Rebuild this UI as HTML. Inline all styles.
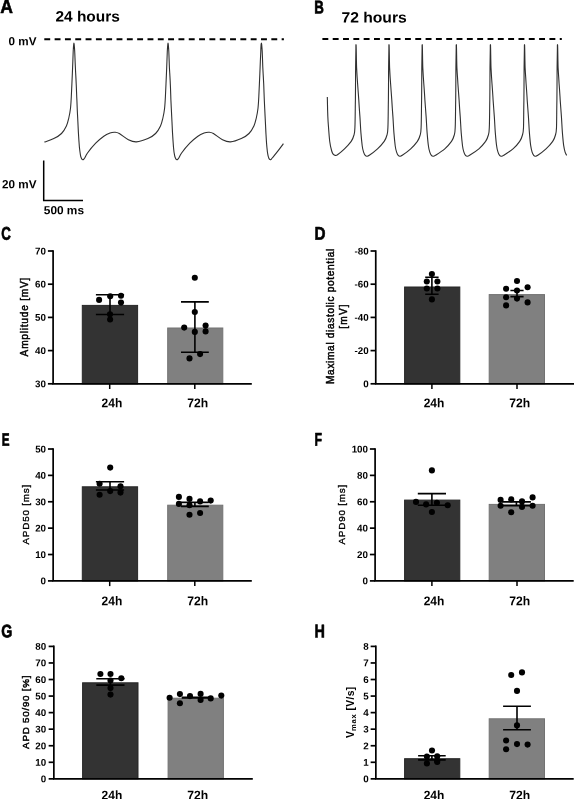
<!DOCTYPE html>
<html><head><meta charset="utf-8"><title>Figure</title>
<style>html,body{margin:0;padding:0;background:#fff}svg{display:block;will-change:transform;opacity:0.9999}text{font-family:"Liberation Sans",sans-serif;fill:#000}</style></head><body>
<svg width="575" height="799" viewBox="0 0 575 799">
<rect width="575" height="799" fill="#fff"/>
<text transform="translate(0.20 13.00) rotate(0.04) scale(0.1758 0.1920)" font-size="100" font-weight="bold" stroke="#000" stroke-width="0.60" vector-effect="non-scaling-stroke" stroke-linejoin="round">A</text>
<text transform="translate(314.35 13.55) rotate(0.04) scale(0.1329 0.1840)" font-size="100" font-weight="bold" stroke="#000" stroke-width="0.60" vector-effect="non-scaling-stroke" stroke-linejoin="round">B</text>
<text transform="translate(1.15 239.87) rotate(0.04) scale(0.1329 0.1837)" font-size="100" font-weight="bold" stroke="#000" stroke-width="0.60" vector-effect="non-scaling-stroke" stroke-linejoin="round">C</text>
<text transform="translate(314.55 239.75) rotate(0.04) scale(0.1522 0.1847)" font-size="100" font-weight="bold" stroke="#000" stroke-width="0.60" vector-effect="non-scaling-stroke" stroke-linejoin="round">D</text>
<text transform="translate(1.75 445.85) rotate(0.04) scale(0.1169 0.1818)" font-size="100" font-weight="bold" stroke="#000" stroke-width="0.60" vector-effect="non-scaling-stroke" stroke-linejoin="round">E</text>
<text transform="translate(314.40 445.85) rotate(0.04) scale(0.1230 0.1847)" font-size="100" font-weight="bold" stroke="#000" stroke-width="0.60" vector-effect="non-scaling-stroke" stroke-linejoin="round">F</text>
<text transform="translate(1.20 637.27) rotate(0.04) scale(0.1428 0.1809)" font-size="100" font-weight="bold" stroke="#000" stroke-width="0.60" vector-effect="non-scaling-stroke" stroke-linejoin="round">G</text>
<text transform="translate(314.40 637.45) rotate(0.04) scale(0.1439 0.1862)" font-size="100" font-weight="bold" stroke="#000" stroke-width="0.60" vector-effect="non-scaling-stroke" stroke-linejoin="round">H</text>
<text transform="translate(55.40 21.40) rotate(0.04) scale(0.15000)" font-size="100" font-weight="bold" text-anchor="start" textLength="429.33" lengthAdjust="spacingAndGlyphs">24 hours</text>
<text transform="translate(8.60 45.20) rotate(0.04) scale(0.11800)" font-size="100" font-weight="bold" text-anchor="start" textLength="236.44" lengthAdjust="spacingAndGlyphs">0 mV</text>
<path d="M44.3 39.2 H283.9" stroke="#000" stroke-width="2" stroke-dasharray="5.9 4.42" fill="none"/>
<path d="M44.3 142.1C45.9 141.5 50.9 140.0 53.8 138.6C56.7 137.2 59.4 135.6 61.5 133.5C63.6 131.4 65.2 128.7 66.4 126.1C67.6 123.5 68.1 121.0 68.8 118.0C69.5 115.0 70.1 111.7 70.5 108.2C70.9 104.7 71.1 100.9 71.3 96.8C71.5 92.7 71.7 88.7 71.9 83.8C72.1 78.9 72.4 72.9 72.6 67.5C72.8 62.1 73.1 55.1 73.2 51.3C73.4 47.5 73.5 46.0 73.7 44.6C73.8 43.2 73.8 43.1 73.9 43.1C74.0 43.1 74.1 43.2 74.2 44.6C74.3 46.0 74.5 47.5 74.7 51.3C74.9 55.1 75.1 62.1 75.4 67.5C75.6 72.9 76.0 78.4 76.2 83.8C76.5 89.2 76.6 94.7 76.9 100.1C77.1 105.5 77.3 111.0 77.6 116.4C77.9 121.8 78.1 127.4 78.4 132.6C78.7 137.8 79.1 143.5 79.4 147.3C79.8 151.1 80.2 153.5 80.5 155.4C80.8 157.3 81.2 157.8 81.5 158.5C81.8 159.2 82.2 159.4 82.5 159.6C82.8 159.8 83.1 159.8 83.5 159.5C83.9 159.2 84.0 159.1 84.7 158.0C85.4 156.9 85.7 155.5 87.5 153.0C89.3 150.5 93.0 146.0 95.7 143.2C98.4 140.4 101.4 137.9 103.8 136.2C106.2 134.5 108.2 133.7 110.0 133.0C111.8 132.3 113.3 132.1 114.8 132.2C116.4 132.3 117.0 132.2 119.3 133.5C121.6 134.8 125.6 138.3 128.4 139.7C131.2 141.1 133.2 142.1 136.4 141.9C139.7 141.7 144.7 140.0 147.9 138.6C151.1 137.2 153.5 135.6 155.6 133.5C157.7 131.4 159.3 128.7 160.5 126.1C161.7 123.5 162.2 121.0 162.9 118.0C163.6 115.0 164.2 111.7 164.6 108.2C165.0 104.7 165.2 100.9 165.4 96.8C165.6 92.7 165.8 88.7 166.0 83.8C166.2 78.9 166.5 72.9 166.7 67.5C166.9 62.1 167.2 55.1 167.3 51.3C167.5 47.5 167.6 46.0 167.8 44.6C167.9 43.2 167.9 43.1 168.0 43.1C168.1 43.1 168.2 43.2 168.3 44.6C168.4 46.0 168.6 47.5 168.8 51.3C169.0 55.1 169.2 62.1 169.4 67.5C169.7 72.9 170.1 78.4 170.3 83.8C170.6 89.2 170.7 94.7 170.9 100.1C171.2 105.5 171.4 111.0 171.7 116.4C172.0 121.8 172.2 127.4 172.5 132.6C172.8 137.8 173.2 143.5 173.5 147.3C173.8 151.1 174.2 153.5 174.6 155.4C174.9 157.3 175.3 157.8 175.6 158.5C175.9 159.2 176.3 159.4 176.6 159.6C176.9 159.8 177.2 159.8 177.6 159.5C178.0 159.2 178.1 159.1 178.8 158.0C179.5 156.9 179.8 155.5 181.6 153.0C183.4 150.5 187.1 146.0 189.8 143.2C192.5 140.4 195.5 137.9 197.9 136.2C200.3 134.5 202.3 133.7 204.1 133.0C205.9 132.3 207.3 132.1 208.9 132.2C210.5 132.3 211.1 132.2 213.4 133.5C215.7 134.8 219.7 138.3 222.5 139.7C225.3 141.1 227.4 142.1 230.5 141.9C233.6 141.7 238.2 140.0 241.3 138.6C244.4 137.2 246.9 135.6 249.0 133.5C251.1 131.4 252.7 128.7 253.9 126.1C255.1 123.5 255.6 121.0 256.3 118.0C257.0 115.0 257.6 111.7 258.0 108.2C258.4 104.7 258.6 100.9 258.8 96.8C259.0 92.7 259.2 88.7 259.4 83.8C259.6 78.9 259.9 72.9 260.1 67.5C260.3 62.1 260.6 55.1 260.8 51.3C260.9 47.5 261.0 46.0 261.1 44.6C261.3 43.2 261.3 43.1 261.4 43.1C261.5 43.1 261.6 43.2 261.7 44.6C261.8 46.0 262.0 47.5 262.2 51.3C262.4 55.1 262.6 62.1 262.8 67.5C263.1 72.9 263.4 78.4 263.7 83.8C263.9 89.2 264.1 94.7 264.3 100.1C264.6 105.5 264.8 111.0 265.1 116.4C265.4 121.8 265.6 127.4 265.9 132.6C266.2 137.8 266.5 143.5 266.9 147.3C267.2 151.1 267.6 153.5 268.0 155.4C268.4 157.3 268.7 157.8 269.0 158.5C269.3 159.2 269.7 159.4 270.0 159.6C270.3 159.8 270.6 159.8 271.0 159.5C271.4 159.2 271.0 159.4 272.2 158.0C273.4 156.6 276.1 153.2 278.0 150.8C279.9 148.4 282.5 144.9 283.4 143.7" fill="none" stroke="#303030" stroke-width="1.1" stroke-linejoin="round"/>
<path d="M43.7 160.4 V200.4 H83" fill="none" stroke="#000" stroke-width="1.5"/>
<text transform="translate(2.00 188.20) rotate(0.04) scale(0.11800)" font-size="100" font-weight="bold" text-anchor="start" textLength="292.37" lengthAdjust="spacingAndGlyphs">20 mV</text>
<text transform="translate(43.80 214.20) rotate(0.04) scale(0.11800)" font-size="100" font-weight="bold" text-anchor="start" textLength="340.68" lengthAdjust="spacingAndGlyphs">500 ms</text>
<text transform="translate(341.40 22.50) rotate(0.04) scale(0.15000)" font-size="100" font-weight="bold" text-anchor="start" textLength="436.00" lengthAdjust="spacingAndGlyphs">72 hours</text>
<path d="M322.4 39.0 H561.8" stroke="#000" stroke-width="2" stroke-dasharray="5.9 4.42" fill="none"/>
<path d="M327.3 97.0C327.4 99.2 327.5 105.9 327.6 110.0C327.7 114.1 327.8 116.5 328.1 121.7C328.5 126.9 329.1 136.3 329.7 141.2C330.3 146.1 331.1 148.8 331.7 151.0C332.3 153.2 332.8 153.7 333.4 154.4C334.0 155.1 334.6 155.3 335.3 155.4C336.0 155.5 336.0 155.9 337.5 154.8C339.0 153.7 342.2 151.1 344.5 148.9C346.8 146.7 349.6 143.6 351.2 141.4C352.8 139.2 353.2 137.8 353.8 135.5C354.4 133.2 354.7 133.7 354.9 127.8C355.2 121.9 355.2 110.1 355.4 100.1C355.5 90.0 355.6 76.2 355.6 67.5C355.7 58.8 355.8 51.8 355.9 48.0C355.9 44.2 355.9 44.8 356.0 44.8C356.1 44.8 356.1 44.2 356.2 48.0C356.3 51.8 356.4 61.5 356.6 67.5C356.9 73.5 357.2 78.4 357.6 83.8C358.0 89.2 358.4 94.7 358.8 100.1C359.1 105.5 359.5 111.0 359.9 116.4C360.3 121.8 360.5 127.7 360.9 132.6C361.3 137.5 361.8 142.4 362.2 145.7C362.6 149.0 363.1 150.6 363.6 152.2C364.1 153.8 364.6 154.7 365.2 155.4C365.8 156.1 366.2 156.2 366.9 156.2C367.6 156.2 367.5 156.5 369.3 155.3C371.1 154.1 375.0 151.2 377.5 148.9C380.0 146.6 382.6 143.6 384.2 141.4C385.8 139.2 386.2 137.8 386.8 135.5C387.4 133.2 387.7 133.7 387.9 127.8C388.2 121.9 388.2 110.1 388.4 100.1C388.5 90.0 388.6 76.2 388.6 67.5C388.7 58.8 388.8 51.8 388.9 48.0C388.9 44.2 388.9 44.8 389.0 44.8C389.1 44.8 389.1 44.2 389.2 48.0C389.3 51.8 389.4 61.5 389.6 67.5C389.9 73.5 390.2 78.4 390.6 83.8C391.0 89.2 391.4 94.7 391.8 100.1C392.1 105.5 392.5 111.0 392.9 116.4C393.3 121.8 393.5 127.7 393.9 132.6C394.3 137.5 394.8 142.4 395.2 145.7C395.6 149.0 396.1 150.6 396.6 152.2C397.1 153.8 397.6 154.7 398.2 155.4C398.8 156.1 399.2 156.2 399.9 156.2C400.6 156.2 400.5 156.5 402.3 155.3C404.1 154.1 408.2 151.2 410.7 148.9C413.2 146.6 415.8 143.6 417.4 141.4C418.9 139.2 419.4 137.8 420.0 135.5C420.6 133.2 420.9 133.7 421.1 127.8C421.4 121.9 421.4 110.1 421.6 100.1C421.7 90.0 421.8 76.2 421.8 67.5C421.9 58.8 422.0 51.8 422.1 48.0C422.1 44.2 422.1 44.8 422.2 44.8C422.3 44.8 422.3 44.2 422.4 48.0C422.5 51.8 422.6 61.5 422.8 67.5C423.1 73.5 423.4 78.4 423.8 83.8C424.2 89.2 424.6 94.7 424.9 100.1C425.3 105.5 425.7 111.0 426.1 116.4C426.5 121.8 426.7 127.7 427.1 132.6C427.5 137.5 427.9 142.4 428.4 145.7C428.8 149.0 429.3 150.6 429.8 152.2C430.3 153.8 430.8 154.7 431.4 155.4C431.9 156.1 432.4 156.2 433.1 156.2C433.8 156.2 433.6 156.5 435.5 155.3C437.4 154.1 442.1 151.2 444.8 148.9C447.5 146.6 449.9 143.6 451.5 141.4C453.1 139.2 453.5 137.8 454.1 135.5C454.7 133.2 455.0 133.7 455.2 127.8C455.5 121.9 455.5 110.1 455.7 100.1C455.8 90.0 455.9 76.2 455.9 67.5C456.0 58.8 456.1 51.8 456.2 48.0C456.2 44.2 456.2 44.8 456.3 44.8C456.4 44.8 456.4 44.2 456.5 48.0C456.6 51.8 456.7 61.5 456.9 67.5C457.2 73.5 457.6 78.4 457.9 83.8C458.3 89.2 458.7 94.7 459.1 100.1C459.4 105.5 459.8 111.0 460.2 116.4C460.6 121.8 460.8 127.7 461.2 132.6C461.6 137.5 462.1 142.4 462.5 145.7C462.9 149.0 463.4 150.6 463.9 152.2C464.4 153.8 464.9 154.7 465.5 155.4C466.1 156.1 466.5 156.2 467.2 156.2C467.9 156.2 467.7 156.5 469.6 155.3C471.6 154.1 476.2 151.2 478.9 148.9C481.6 146.6 484.0 143.6 485.6 141.4C487.1 139.2 487.6 137.8 488.2 135.5C488.8 133.2 489.1 133.7 489.3 127.8C489.6 121.9 489.6 110.1 489.8 100.1C489.9 90.0 490.0 76.2 490.0 67.5C490.1 58.8 490.2 51.8 490.3 48.0C490.3 44.2 490.3 44.8 490.4 44.8C490.5 44.8 490.5 44.2 490.6 48.0C490.7 51.8 490.8 61.5 491.0 67.5C491.3 73.5 491.6 78.4 492.0 83.8C492.4 89.2 492.8 94.7 493.1 100.1C493.5 105.5 493.9 111.0 494.3 116.4C494.7 121.8 494.9 127.7 495.3 132.6C495.7 137.5 496.1 142.4 496.6 145.7C497.0 149.0 497.5 150.6 498.0 152.2C498.5 153.8 499.0 154.7 499.6 155.4C500.1 156.1 500.6 156.2 501.3 156.2C502.0 156.2 501.8 156.5 503.7 155.3C505.6 154.1 510.3 151.2 513.0 148.9C515.7 146.6 518.2 143.6 519.7 141.4C521.2 139.2 521.7 137.8 522.3 135.5C522.9 133.2 523.2 133.7 523.5 127.8C523.7 121.9 523.7 110.1 523.9 100.1C524.0 90.0 524.1 76.2 524.1 67.5C524.2 58.8 524.3 51.8 524.4 48.0C524.4 44.2 524.4 44.8 524.5 44.8C524.6 44.8 524.6 44.2 524.7 48.0C524.8 51.8 524.9 61.5 525.1 67.5C525.4 73.5 525.8 78.4 526.1 83.8C526.5 89.2 526.9 94.7 527.2 100.1C527.6 105.5 528.0 111.0 528.4 116.4C528.8 121.8 529.0 127.7 529.4 132.6C529.8 137.5 530.2 142.4 530.7 145.7C531.2 149.0 531.6 150.6 532.1 152.2C532.6 153.8 533.2 154.7 533.7 155.4C534.2 156.1 534.7 156.2 535.4 156.2C536.1 156.2 536.0 156.5 537.8 155.3C539.6 154.1 543.5 151.2 546.0 148.9C548.5 146.6 551.2 143.6 552.7 141.4C554.2 139.2 554.7 137.8 555.3 135.5C555.9 133.2 556.2 133.7 556.5 127.8C556.7 121.9 556.7 110.1 556.9 100.1C557.0 90.0 557.1 76.2 557.1 67.5C557.2 58.8 557.3 51.8 557.4 48.0C557.4 44.2 557.4 44.8 557.5 44.8C557.6 44.8 557.6 44.2 557.7 48.0C557.8 51.8 557.9 61.5 558.1 67.5C558.4 73.5 558.8 78.4 559.1 83.8C559.5 89.2 559.9 94.7 560.2 100.1C560.6 105.5 561.0 111.0 561.4 116.4C561.8 121.8 562.0 127.7 562.4 132.6C562.8 137.5 563.2 142.4 563.7 145.7C564.2 149.0 564.6 150.6 565.1 152.2C565.6 153.8 566.4 154.9 566.7 155.4" fill="none" stroke="#303030" stroke-width="1.1" stroke-linejoin="round"/>
<rect x="82.30" y="305.40" width="55.30" height="78.40" fill="#333333" stroke="#272727" stroke-width="1"/>
<rect x="167.70" y="328.00" width="55.10" height="55.80" fill="#808080" stroke="#727272" stroke-width="1"/>
<path d="M53.10 250.15 V383.80 H251.80" fill="none" stroke="#000000" stroke-width="1.7"/>
<path d="M47.90 251.00 H53.10" stroke="#000000" stroke-width="1.7"/>
<path d="M47.90 284.20 H53.10" stroke="#000000" stroke-width="1.7"/>
<path d="M47.90 317.40 H53.10" stroke="#000000" stroke-width="1.7"/>
<path d="M47.90 350.60 H53.10" stroke="#000000" stroke-width="1.7"/>
<path d="M47.90 383.80 H53.10" stroke="#000000" stroke-width="1.7"/>
<text transform="translate(46.00 254.40) rotate(0.04) scale(0.09800)" font-size="100" font-weight="bold" text-anchor="end" >70</text>
<text transform="translate(46.00 287.60) rotate(0.04) scale(0.09800)" font-size="100" font-weight="bold" text-anchor="end" >60</text>
<text transform="translate(46.00 320.80) rotate(0.04) scale(0.09800)" font-size="100" font-weight="bold" text-anchor="end" >50</text>
<text transform="translate(46.00 354.00) rotate(0.04) scale(0.09800)" font-size="100" font-weight="bold" text-anchor="end" >40</text>
<text transform="translate(46.00 387.20) rotate(0.04) scale(0.09800)" font-size="100" font-weight="bold" text-anchor="end" >30</text>
<path d="M110.0 294.8 V314.5 M95.9 294.8 H124.1 M95.9 314.5 H124.1" stroke="#000000" stroke-width="1.6" fill="none"/>
<path d="M194.9 301.9 V352.3 M181.0 301.9 H208.8 M181.0 352.3 H208.8" stroke="#000000" stroke-width="1.6" fill="none"/>
<circle cx="99.1" cy="299.9" r="3.05" fill="#000000"/>
<circle cx="110.2" cy="296.3" r="3.05" fill="#000000"/>
<circle cx="121.0" cy="295.8" r="3.05" fill="#000000"/>
<circle cx="121.0" cy="302.6" r="3.05" fill="#000000"/>
<circle cx="110.0" cy="314.2" r="3.05" fill="#000000"/>
<circle cx="110.1" cy="319.5" r="3.05" fill="#000000"/>
<circle cx="194.8" cy="277.7" r="3.05" fill="#000000"/>
<circle cx="194.8" cy="312.0" r="3.05" fill="#000000"/>
<circle cx="184.2" cy="327.6" r="3.05" fill="#000000"/>
<circle cx="205.6" cy="325.6" r="3.05" fill="#000000"/>
<circle cx="205.6" cy="331.4" r="3.05" fill="#000000"/>
<circle cx="194.8" cy="331.9" r="3.05" fill="#000000"/>
<circle cx="200.1" cy="354.1" r="3.05" fill="#000000"/>
<circle cx="189.5" cy="358.4" r="3.05" fill="#000000"/>
<rect x="404.60" y="287.00" width="55.20" height="96.80" fill="#333333" stroke="#272727" stroke-width="1"/>
<rect x="489.20" y="294.60" width="55.30" height="89.20" fill="#808080" stroke="#727272" stroke-width="1"/>
<path d="M375.75 250.15 V383.80 H574.00" fill="none" stroke="#000000" stroke-width="1.7"/>
<path d="M370.55 251.00 H375.75" stroke="#000000" stroke-width="1.7"/>
<path d="M370.55 284.20 H375.75" stroke="#000000" stroke-width="1.7"/>
<path d="M370.55 317.40 H375.75" stroke="#000000" stroke-width="1.7"/>
<path d="M370.55 350.60 H375.75" stroke="#000000" stroke-width="1.7"/>
<path d="M370.55 383.80 H375.75" stroke="#000000" stroke-width="1.7"/>
<text transform="translate(368.65 254.40) rotate(0.04) scale(0.09800)" font-size="100" font-weight="bold" text-anchor="end" >-80</text>
<text transform="translate(368.65 287.60) rotate(0.04) scale(0.09800)" font-size="100" font-weight="bold" text-anchor="end" >-60</text>
<text transform="translate(368.65 320.80) rotate(0.04) scale(0.09800)" font-size="100" font-weight="bold" text-anchor="end" >-40</text>
<text transform="translate(368.65 354.00) rotate(0.04) scale(0.09800)" font-size="100" font-weight="bold" text-anchor="end" >-20</text>
<text transform="translate(368.65 387.20) rotate(0.04) scale(0.09800)" font-size="100" font-weight="bold" text-anchor="end" >0</text>
<path d="M431.9 277.2 V294.3 M425.2 277.2 H438.6 M425.2 294.3 H438.6" stroke="#000000" stroke-width="1.6" fill="none"/>
<path d="M517.0 290.5 V296.6 M510.4 290.5 H523.6 M510.4 296.6 H523.6" stroke="#000000" stroke-width="1.6" fill="none"/>
<circle cx="431.9" cy="274.1" r="3.05" fill="#000000"/>
<circle cx="426.8" cy="281.5" r="3.05" fill="#000000"/>
<circle cx="437.4" cy="281.5" r="3.05" fill="#000000"/>
<circle cx="426.8" cy="288.5" r="3.05" fill="#000000"/>
<circle cx="437.4" cy="288.5" r="3.05" fill="#000000"/>
<circle cx="431.9" cy="299.4" r="3.05" fill="#000000"/>
<circle cx="517.0" cy="281.0" r="3.05" fill="#000000"/>
<circle cx="506.1" cy="288.8" r="3.05" fill="#000000"/>
<circle cx="527.6" cy="287.3" r="3.05" fill="#000000"/>
<circle cx="517.0" cy="290.5" r="3.05" fill="#000000"/>
<circle cx="517.0" cy="298.6" r="3.05" fill="#000000"/>
<circle cx="506.1" cy="297.3" r="3.05" fill="#000000"/>
<circle cx="527.6" cy="302.4" r="3.05" fill="#000000"/>
<circle cx="506.1" cy="305.4" r="3.05" fill="#000000"/>
<rect x="82.30" y="486.80" width="55.30" height="94.10" fill="#333333" stroke="#272727" stroke-width="1"/>
<rect x="167.70" y="505.20" width="55.10" height="75.70" fill="#808080" stroke="#727272" stroke-width="1"/>
<path d="M53.15 448.15 V580.90 H251.80" fill="none" stroke="#000000" stroke-width="1.7"/>
<path d="M47.95 449.00 H53.15" stroke="#000000" stroke-width="1.7"/>
<path d="M47.95 475.38 H53.15" stroke="#000000" stroke-width="1.7"/>
<path d="M47.95 501.76 H53.15" stroke="#000000" stroke-width="1.7"/>
<path d="M47.95 528.14 H53.15" stroke="#000000" stroke-width="1.7"/>
<path d="M47.95 554.52 H53.15" stroke="#000000" stroke-width="1.7"/>
<path d="M47.95 580.90 H53.15" stroke="#000000" stroke-width="1.7"/>
<text transform="translate(46.05 452.40) rotate(0.04) scale(0.09800)" font-size="100" font-weight="bold" text-anchor="end" >50</text>
<text transform="translate(46.05 478.78) rotate(0.04) scale(0.09800)" font-size="100" font-weight="bold" text-anchor="end" >40</text>
<text transform="translate(46.05 505.16) rotate(0.04) scale(0.09800)" font-size="100" font-weight="bold" text-anchor="end" >30</text>
<text transform="translate(46.05 531.54) rotate(0.04) scale(0.09800)" font-size="100" font-weight="bold" text-anchor="end" >20</text>
<text transform="translate(46.05 557.92) rotate(0.04) scale(0.09800)" font-size="100" font-weight="bold" text-anchor="end" >10</text>
<text transform="translate(46.05 584.30) rotate(0.04) scale(0.09800)" font-size="100" font-weight="bold" text-anchor="end" >0</text>
<path d="M110.0 481.7 V490.0 M95.9 481.7 H124.1 M95.9 490.0 H124.1" stroke="#000000" stroke-width="1.6" fill="none"/>
<path d="M194.9 502.4 V506.4 M181.0 502.4 H208.8 M181.0 506.4 H208.8" stroke="#000000" stroke-width="1.6" fill="none"/>
<circle cx="110.2" cy="467.6" r="3.05" fill="#000000"/>
<circle cx="99.6" cy="483.7" r="3.05" fill="#000000"/>
<circle cx="120.5" cy="486.3" r="3.05" fill="#000000"/>
<circle cx="99.6" cy="494.8" r="3.05" fill="#000000"/>
<circle cx="110.2" cy="491.1" r="3.05" fill="#000000"/>
<circle cx="120.5" cy="492.6" r="3.05" fill="#000000"/>
<circle cx="178.9" cy="496.9" r="3.05" fill="#000000"/>
<circle cx="178.9" cy="503.9" r="3.05" fill="#000000"/>
<circle cx="189.5" cy="498.9" r="3.05" fill="#000000"/>
<circle cx="189.5" cy="505.2" r="3.05" fill="#000000"/>
<circle cx="200.1" cy="501.4" r="3.05" fill="#000000"/>
<circle cx="210.7" cy="500.6" r="3.05" fill="#000000"/>
<circle cx="189.5" cy="514.8" r="3.05" fill="#000000"/>
<circle cx="200.1" cy="513.0" r="3.05" fill="#000000"/>
<rect x="404.60" y="500.10" width="55.20" height="80.80" fill="#333333" stroke="#272727" stroke-width="1"/>
<rect x="489.20" y="504.40" width="55.30" height="76.50" fill="#808080" stroke="#727272" stroke-width="1"/>
<path d="M375.10 448.15 V580.90 H573.70" fill="none" stroke="#000000" stroke-width="1.7"/>
<path d="M369.90 449.00 H375.10" stroke="#000000" stroke-width="1.7"/>
<path d="M369.90 475.38 H375.10" stroke="#000000" stroke-width="1.7"/>
<path d="M369.90 501.76 H375.10" stroke="#000000" stroke-width="1.7"/>
<path d="M369.90 528.14 H375.10" stroke="#000000" stroke-width="1.7"/>
<path d="M369.90 554.52 H375.10" stroke="#000000" stroke-width="1.7"/>
<path d="M369.90 580.90 H375.10" stroke="#000000" stroke-width="1.7"/>
<text transform="translate(368.00 452.40) rotate(0.04) scale(0.09800)" font-size="100" font-weight="bold" text-anchor="end" >100</text>
<text transform="translate(368.00 478.78) rotate(0.04) scale(0.09800)" font-size="100" font-weight="bold" text-anchor="end" >80</text>
<text transform="translate(368.00 505.16) rotate(0.04) scale(0.09800)" font-size="100" font-weight="bold" text-anchor="end" >60</text>
<text transform="translate(368.00 531.54) rotate(0.04) scale(0.09800)" font-size="100" font-weight="bold" text-anchor="end" >40</text>
<text transform="translate(368.00 557.92) rotate(0.04) scale(0.09800)" font-size="100" font-weight="bold" text-anchor="end" >20</text>
<text transform="translate(368.00 584.30) rotate(0.04) scale(0.09800)" font-size="100" font-weight="bold" text-anchor="end" >0</text>
<path d="M431.9 493.6 V505.2 M417.8 493.6 H446.0 M417.8 505.2 H446.0" stroke="#000000" stroke-width="1.6" fill="none"/>
<path d="M516.4 501.9 V505.7 M501.9 501.9 H530.9 M501.9 505.7 H530.9" stroke="#000000" stroke-width="1.6" fill="none"/>
<circle cx="431.9" cy="470.4" r="3.05" fill="#000000"/>
<circle cx="416.0" cy="501.9" r="3.05" fill="#000000"/>
<circle cx="426.1" cy="504.4" r="3.05" fill="#000000"/>
<circle cx="436.9" cy="502.7" r="3.05" fill="#000000"/>
<circle cx="447.7" cy="505.2" r="3.05" fill="#000000"/>
<circle cx="431.9" cy="512.0" r="3.05" fill="#000000"/>
<circle cx="500.6" cy="499.9" r="3.05" fill="#000000"/>
<circle cx="511.2" cy="499.4" r="3.05" fill="#000000"/>
<circle cx="522.0" cy="501.4" r="3.05" fill="#000000"/>
<circle cx="532.6" cy="497.4" r="3.05" fill="#000000"/>
<circle cx="500.6" cy="505.7" r="3.05" fill="#000000"/>
<circle cx="522.0" cy="506.9" r="3.05" fill="#000000"/>
<circle cx="532.6" cy="505.7" r="3.05" fill="#000000"/>
<circle cx="511.2" cy="512.2" r="3.05" fill="#000000"/>
<rect x="82.60" y="682.80" width="55.40" height="96.05" fill="#333333" stroke="#272727" stroke-width="1"/>
<rect x="168.10" y="698.20" width="55.30" height="80.65" fill="#808080" stroke="#727272" stroke-width="1"/>
<path d="M53.85 645.55 V778.85 H252.80" fill="none" stroke="#000000" stroke-width="1.7"/>
<path d="M48.65 646.40 H53.85" stroke="#000000" stroke-width="1.7"/>
<path d="M48.65 662.96 H53.85" stroke="#000000" stroke-width="1.7"/>
<path d="M48.65 679.51 H53.85" stroke="#000000" stroke-width="1.7"/>
<path d="M48.65 696.07 H53.85" stroke="#000000" stroke-width="1.7"/>
<path d="M48.65 712.62 H53.85" stroke="#000000" stroke-width="1.7"/>
<path d="M48.65 729.18 H53.85" stroke="#000000" stroke-width="1.7"/>
<path d="M48.65 745.74 H53.85" stroke="#000000" stroke-width="1.7"/>
<path d="M48.65 762.29 H53.85" stroke="#000000" stroke-width="1.7"/>
<path d="M48.65 778.85 H53.85" stroke="#000000" stroke-width="1.7"/>
<text transform="translate(46.25 649.80) rotate(0.04) scale(0.09800)" font-size="100" font-weight="bold" text-anchor="end" >80</text>
<text transform="translate(46.25 666.36) rotate(0.04) scale(0.09800)" font-size="100" font-weight="bold" text-anchor="end" >70</text>
<text transform="translate(46.25 682.91) rotate(0.04) scale(0.09800)" font-size="100" font-weight="bold" text-anchor="end" >60</text>
<text transform="translate(46.25 699.47) rotate(0.04) scale(0.09800)" font-size="100" font-weight="bold" text-anchor="end" >50</text>
<text transform="translate(46.25 716.02) rotate(0.04) scale(0.09800)" font-size="100" font-weight="bold" text-anchor="end" >40</text>
<text transform="translate(46.25 732.58) rotate(0.04) scale(0.09800)" font-size="100" font-weight="bold" text-anchor="end" >30</text>
<text transform="translate(46.25 749.14) rotate(0.04) scale(0.09800)" font-size="100" font-weight="bold" text-anchor="end" >20</text>
<text transform="translate(46.25 765.69) rotate(0.04) scale(0.09800)" font-size="100" font-weight="bold" text-anchor="end" >10</text>
<text transform="translate(46.25 782.25) rotate(0.04) scale(0.09800)" font-size="100" font-weight="bold" text-anchor="end" >0</text>
<path d="M110.4 678.7 V685.1 M96.3 678.7 H124.5 M96.3 685.1 H124.5" stroke="#000000" stroke-width="1.6" fill="none"/>
<path d="M195.6 697.4 V698.0 M181.7 697.4 H209.5 M181.7 698.0 H209.5" stroke="#000000" stroke-width="1.6" fill="none"/>
<circle cx="100.4" cy="674.0" r="3.05" fill="#000000"/>
<circle cx="110.5" cy="674.0" r="3.05" fill="#000000"/>
<circle cx="121.3" cy="678.2" r="3.05" fill="#000000"/>
<circle cx="110.5" cy="680.5" r="3.05" fill="#000000"/>
<circle cx="110.5" cy="688.1" r="3.05" fill="#000000"/>
<circle cx="110.5" cy="694.6" r="3.05" fill="#000000"/>
<circle cx="169.6" cy="697.7" r="3.05" fill="#000000"/>
<circle cx="179.9" cy="694.1" r="3.05" fill="#000000"/>
<circle cx="179.9" cy="703.2" r="3.05" fill="#000000"/>
<circle cx="190.0" cy="696.1" r="3.05" fill="#000000"/>
<circle cx="200.6" cy="693.9" r="3.05" fill="#000000"/>
<circle cx="200.6" cy="699.9" r="3.05" fill="#000000"/>
<circle cx="210.7" cy="698.4" r="3.05" fill="#000000"/>
<circle cx="221.3" cy="695.6" r="3.05" fill="#000000"/>
<rect x="404.60" y="758.70" width="55.20" height="20.15" fill="#333333" stroke="#272727" stroke-width="1"/>
<rect x="489.20" y="718.80" width="55.30" height="60.05" fill="#808080" stroke="#727272" stroke-width="1"/>
<path d="M375.85 645.55 V778.85 H573.70" fill="none" stroke="#000000" stroke-width="1.7"/>
<path d="M370.65 646.40 H375.85" stroke="#000000" stroke-width="1.7"/>
<path d="M370.65 662.96 H375.85" stroke="#000000" stroke-width="1.7"/>
<path d="M370.65 679.51 H375.85" stroke="#000000" stroke-width="1.7"/>
<path d="M370.65 696.07 H375.85" stroke="#000000" stroke-width="1.7"/>
<path d="M370.65 712.62 H375.85" stroke="#000000" stroke-width="1.7"/>
<path d="M370.65 729.18 H375.85" stroke="#000000" stroke-width="1.7"/>
<path d="M370.65 745.74 H375.85" stroke="#000000" stroke-width="1.7"/>
<path d="M370.65 762.29 H375.85" stroke="#000000" stroke-width="1.7"/>
<path d="M370.65 778.85 H375.85" stroke="#000000" stroke-width="1.7"/>
<text transform="translate(368.75 649.80) rotate(0.04) scale(0.09800)" font-size="100" font-weight="bold" text-anchor="end" >8</text>
<text transform="translate(368.75 666.36) rotate(0.04) scale(0.09800)" font-size="100" font-weight="bold" text-anchor="end" >7</text>
<text transform="translate(368.75 682.91) rotate(0.04) scale(0.09800)" font-size="100" font-weight="bold" text-anchor="end" >6</text>
<text transform="translate(368.75 699.47) rotate(0.04) scale(0.09800)" font-size="100" font-weight="bold" text-anchor="end" >5</text>
<text transform="translate(368.75 716.02) rotate(0.04) scale(0.09800)" font-size="100" font-weight="bold" text-anchor="end" >4</text>
<text transform="translate(368.75 732.58) rotate(0.04) scale(0.09800)" font-size="100" font-weight="bold" text-anchor="end" >3</text>
<text transform="translate(368.75 749.14) rotate(0.04) scale(0.09800)" font-size="100" font-weight="bold" text-anchor="end" >2</text>
<text transform="translate(368.75 765.69) rotate(0.04) scale(0.09800)" font-size="100" font-weight="bold" text-anchor="end" >1</text>
<text transform="translate(368.75 782.25) rotate(0.04) scale(0.09800)" font-size="100" font-weight="bold" text-anchor="end" >0</text>
<path d="M431.9 755.7 V759.9 M418.1 755.7 H445.7 M418.1 759.9 H445.7" stroke="#000000" stroke-width="1.6" fill="none"/>
<path d="M517.0 706.2 V729.7 M503.1 706.2 H530.9 M503.1 729.7 H530.9" stroke="#000000" stroke-width="1.6" fill="none"/>
<circle cx="432.0" cy="750.5" r="3.05" fill="#000000"/>
<circle cx="426.9" cy="756.6" r="3.05" fill="#000000"/>
<circle cx="437.2" cy="756.2" r="3.05" fill="#000000"/>
<circle cx="426.9" cy="763.4" r="3.05" fill="#000000"/>
<circle cx="437.2" cy="761.9" r="3.05" fill="#000000"/>
<circle cx="437.2" cy="760.5" r="3.05" fill="#000000"/>
<circle cx="511.2" cy="675.0" r="3.05" fill="#000000"/>
<circle cx="522.0" cy="672.4" r="3.05" fill="#000000"/>
<circle cx="517.0" cy="690.9" r="3.05" fill="#000000"/>
<circle cx="517.0" cy="725.4" r="3.05" fill="#000000"/>
<circle cx="506.1" cy="740.5" r="3.05" fill="#000000"/>
<circle cx="517.0" cy="744.1" r="3.05" fill="#000000"/>
<circle cx="527.6" cy="744.6" r="3.05" fill="#000000"/>
<circle cx="506.1" cy="749.3" r="3.05" fill="#000000"/>
<path d="M109.7 383.8 V389.0" stroke="#000" stroke-width="1.5"/>
<path d="M194.8 383.8 V389.0" stroke="#000" stroke-width="1.5"/>
<path d="M431.9 383.8 V389.0" stroke="#000" stroke-width="1.5"/>
<path d="M517.0 383.8 V389.0" stroke="#000" stroke-width="1.5"/>
<path d="M109.7 580.9 V586.1" stroke="#000" stroke-width="1.5"/>
<path d="M194.8 580.9 V586.1" stroke="#000" stroke-width="1.5"/>
<path d="M431.9 580.9 V586.1" stroke="#000" stroke-width="1.5"/>
<path d="M517.0 580.9 V586.1" stroke="#000" stroke-width="1.5"/>
<text transform="translate(101.60 407.30) rotate(0.04) scale(0.1202 0.1269)" font-size="100" font-weight="bold">24h</text>
<text transform="translate(187.20 407.30) rotate(0.04) scale(0.1213 0.1269)" font-size="100" font-weight="bold">72h</text>
<text transform="translate(423.65 407.30) rotate(0.04) scale(0.1199 0.1269)" font-size="100" font-weight="bold">24h</text>
<text transform="translate(509.20 407.30) rotate(0.04) scale(0.1213 0.1269)" font-size="100" font-weight="bold">72h</text>
<text transform="translate(101.60 605.30) rotate(0.04) scale(0.1202 0.1269)" font-size="100" font-weight="bold">24h</text>
<text transform="translate(187.20 605.30) rotate(0.04) scale(0.1213 0.1269)" font-size="100" font-weight="bold">72h</text>
<text transform="translate(423.65 605.30) rotate(0.04) scale(0.1199 0.1269)" font-size="100" font-weight="bold">24h</text>
<text transform="translate(509.20 605.30) rotate(0.04) scale(0.1213 0.1269)" font-size="100" font-weight="bold">72h</text>
<text transform="translate(101.60 799.40) rotate(0.04) scale(0.1202 0.1269)" font-size="100" font-weight="bold">24h</text>
<text transform="translate(187.20 799.40) rotate(0.04) scale(0.1213 0.1269)" font-size="100" font-weight="bold">72h</text>
<text transform="translate(423.65 799.40) rotate(0.04) scale(0.1199 0.1269)" font-size="100" font-weight="bold">24h</text>
<text transform="translate(509.20 799.40) rotate(0.04) scale(0.1213 0.1269)" font-size="100" font-weight="bold">72h</text>
<text transform="translate(28.3 356.4) rotate(-90)" font-size="10.2" font-weight="normal" textLength="78.8" lengthAdjust="spacing" stroke="#000" stroke-width="0.45">Amplitude [mV]</text>
<text transform="translate(334.3 384.0) rotate(-90)" font-size="10.2" font-weight="normal" textLength="135.2" lengthAdjust="spacing" stroke="#000" stroke-width="0.45">Maximal diastolic potential</text>
<text transform="translate(347.3 328.7) rotate(-90)" font-size="10.2" font-weight="normal" textLength="24.4" lengthAdjust="spacing" stroke="#000" stroke-width="0.45">[mV]</text>
<text transform="translate(28.6 544.5) rotate(-90)" font-size="9.9" font-weight="normal" textLength="59.7" lengthAdjust="spacing" stroke="#000" stroke-width="0.35">APD50 [ms]</text>
<text transform="translate(344.8 544.5) rotate(-90)" font-size="9.9" font-weight="normal" textLength="59.7" lengthAdjust="spacing" stroke="#000" stroke-width="0.35">APD90 [ms]</text>
<text transform="translate(28.5 748.9) rotate(-90)" font-size="9.8" font-weight="normal" textLength="73.4" lengthAdjust="spacing" stroke="#000" stroke-width="0.45">APD 50/90 [%]</text>
<text transform="translate(354.2 738.1) rotate(-90)" font-size="10.4" font-weight="bold" letter-spacing="0.28">V<tspan font-size="7.6" dy="2.2" letter-spacing="0.7">max</tspan><tspan dy="-2.2"> [V/s]</tspan></text>
</svg></body></html>
